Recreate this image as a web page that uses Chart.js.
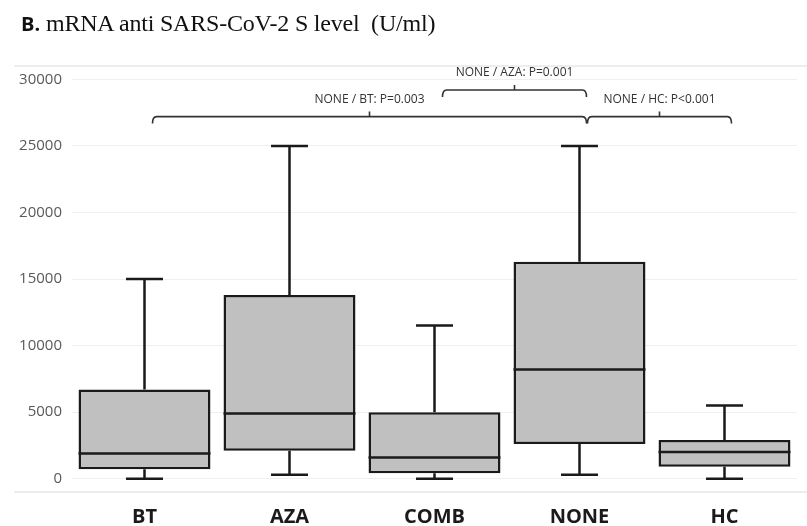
<!DOCTYPE html>
<html>
<head>
<meta charset="utf-8">
<script src="https://cdn.jsdelivr.net/npm/chart.js@4.4.1/dist/chart.umd.min.js"></script>
<style>
  html, body { margin: 0; padding: 0; background: #fff; }
  #wrap { position: relative; width: 807px; height: 526px; }
  #title { position: absolute; left: 21px; top: 12px; line-height: 23px; white-space: pre; color: #111; }
  #title b { font-family: "Open Sans", sans-serif; font-size: 20px; font-weight: 700; }
  #title span { font-family: "Liberation Serif", "Times New Roman", serif; font-size: 24px; letter-spacing: -0.2px; }
</style>
</head>
<body>
<div id="wrap">
  <canvas id="chartBox"></canvas>
  <div id="title"><b>B.</b><span> mRNA anti SARS-CoV-2 S level  (U/ml)</span></div>
</div>
<script>
// groups and box plot values (U/ml)
const categories = ["BT", "AZA", "COMB", "NONE", "HC"];
const whiskerLow = [0, 300, 0, 300, 0];
const q1 = [700, 2100, 400, 2600, 900];
const median = [1900, 4900, 1600, 8200, 2000];
const q3 = [6700, 13800, 5000, 16300, 2900];
const whiskerHigh = [15000, 25000, 11500, 25000, 5500];
const yTicks = [0, 5000, 10000, 15000, 20000, 25000, 30000];

// significance brackets
const pLabels = ["NONE / BT: P=0.003", "NONE / AZA: P=0.001", "NONE / HC: P<0.001"];
const pFrom = ["BT", "COMB", "NONE"];
const pTo = ["NONE", "NONE", "HC"];
const pLevel = [27200, 29200, 27200];

const lineColor = "#1a1a1a";

const boxParts = {
    id: 'boxParts',
    beforeDatasetsDraw(chart) {
        const ctx = chart.ctx;
        const y = chart.scales.y;
        const meta = chart.getDatasetMeta(0);
        ctx.save();
        ctx.strokeStyle = lineColor;
        ctx.lineWidth = 2.5;
        meta.data.forEach(function(bar, i) {
            const capW = bar.width * 0.28;
            ctx.beginPath();
            ctx.moveTo(bar.x, y.getPixelForValue(whiskerLow[i]));
            ctx.lineTo(bar.x, y.getPixelForValue(q1[i]));
            ctx.moveTo(bar.x, y.getPixelForValue(q3[i]));
            ctx.lineTo(bar.x, y.getPixelForValue(whiskerHigh[i]));
            ctx.moveTo(bar.x - capW / 2, y.getPixelForValue(whiskerLow[i]));
            ctx.lineTo(bar.x + capW / 2, y.getPixelForValue(whiskerLow[i]));
            ctx.moveTo(bar.x - capW / 2, y.getPixelForValue(whiskerHigh[i]));
            ctx.lineTo(bar.x + capW / 2, y.getPixelForValue(whiskerHigh[i]));
            ctx.stroke();
        });
        ctx.restore();
    },
    afterDatasetsDraw(chart) {
        const ctx = chart.ctx;
        const x = chart.scales.x;
        const y = chart.scales.y;
        const area = chart.chartArea;
        const meta = chart.getDatasetMeta(0);
        ctx.save();
        // medians
        ctx.strokeStyle = lineColor;
        ctx.lineWidth = 2.5;
        meta.data.forEach(function(bar, i) {
            const my = y.getPixelForValue(median[i]);
            ctx.beginPath();
            ctx.moveTo(bar.x - bar.width / 2, my);
            ctx.lineTo(bar.x + bar.width / 2, my);
            ctx.stroke();
        });
        // frame lines
        ctx.strokeStyle = "#dcdcdc";
        ctx.lineWidth = 1.2;
        ctx.beginPath();
        ctx.moveTo(14, area.top);
        ctx.lineTo(chart.width, area.top);
        ctx.moveTo(14, area.bottom);
        ctx.lineTo(chart.width, area.bottom);
        ctx.stroke();
        // brackets
        ctx.strokeStyle = "#333";
        ctx.lineWidth = 1.6;
        ctx.fillStyle = "#333";
        ctx.font = '12px "Open Sans"';
        ctx.textAlign = "center";
        ctx.textBaseline = "middle";
        pLabels.forEach(function(label, i) {
            const x0 = x.getPixelForValue(categories.indexOf(pFrom[i])) + 8;
            const x1 = x.getPixelForValue(categories.indexOf(pTo[i])) + 7;
            const by = y.getPixelForValue(pLevel[i]);
            const xm = (x0 + x1) / 2;
            ctx.beginPath();
            ctx.moveTo(x0, by + 7);
            ctx.quadraticCurveTo(x0, by, x0 + 4, by);
            ctx.lineTo(x1 - 4, by);
            ctx.quadraticCurveTo(x1, by, x1, by + 7);
            ctx.moveTo(xm, by);
            ctx.lineTo(xm, by - 5);
            ctx.stroke();
            ctx.fillText(label, xm, by - 17);
        });
        ctx.restore();
    }
};

new Chart(document.getElementById("chartBox"), {
    type: "bar",
    data: {
        labels: categories,
        datasets: [{
            data: q1.map(function(v, i) { return [v, q3[i]]; }),
            backgroundColor: "#c0c0c0",
            borderColor: lineColor,
            borderWidth: 2.5,
            borderSkipped: false,
            barPercentage: 0.91,
            categoryPercentage: 1.0
        }]
    },
    options: {
        responsive: true,
        maintainAspectRatio: false,
        animation: false,
        layout: { padding: { top: 66, right: 10, bottom: 0, left: 0 } },
        plugins: {
            legend: { display: false },
            tooltip: { enabled: false }
        },
        scales: {
            x: {
                grid: { display: false },
                border: { display: false },
                ticks: {
                    color: "#1a1a1a",
                    padding: 5,
                    font: { family: "Open Sans", size: 20, weight: "bold" }
                },
                afterFit: function(scale) { scale.height = 34; }
            },
            y: {
                min: -1000,
                max: 31000,
                afterBuildTicks: function(scale) {
                    scale.ticks = yTicks.map(function(v) { return { value: v }; });
                },
                grid: { color: "#efefef", drawTicks: false },
                border: { display: false },
                ticks: {
                    color: "#595959",
                    padding: 10,
                    font: { family: "Open Sans", size: 15 },
                    callback: function(value) { return String(value); }
                },
                afterFit: function(scale) { scale.width = 72; }
            }
        }
    },
    plugins: [boxParts]
});
</script>
</body>
</html>
